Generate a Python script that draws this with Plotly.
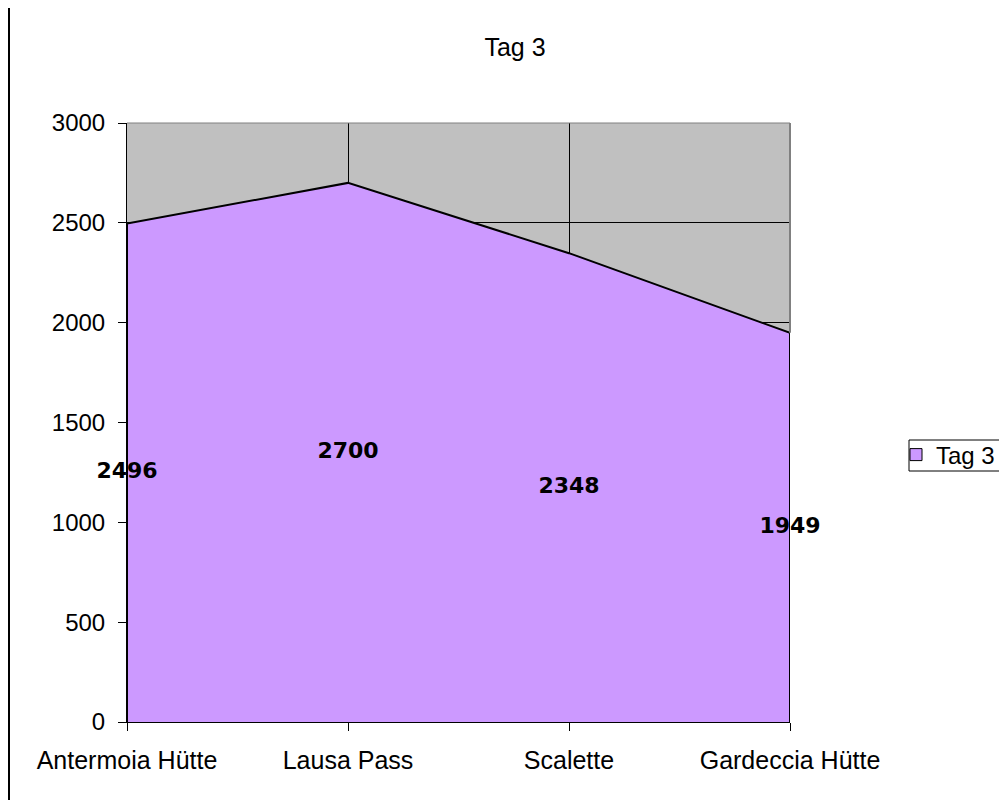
import plotly.graph_objects as go

categories = ["Antermoia Hütte", "Lausa Pass", "Scalette", "Gardeccia Hütte"]
values = [2496, 2700, 2348, 1949]
series_name = "Tag 3"
y_ticks = [0, 500, 1000, 1500, 2000, 2500, 3000]

FILL = "#CC99FF"
# page has an 8px body margin, so work in figure coordinates = reference - 8
W, H = 999, 792
L, R, T, B = 119, 782, 115, 714


def px_x(px):
    return (px - L) / (R - L)


def px_y(py):
    return (B - py) / (B - T)


fig = go.Figure()

# area with outline (closed at both ends)
fig.add_trace(go.Scatter(
    x=[categories[0]] + categories + [categories[-1]],
    y=[0] + values + [0],
    mode="lines",
    fill="tozeroy",
    fillcolor=FILL,
    line=dict(color="black", width=2),
    showlegend=False,
    hoverinfo="skip",
))

# data labels centred at half height
fig.add_trace(go.Scatter(
    x=categories,
    y=[v / 2 for v in values],
    mode="text",
    text=[str(v) for v in values],
    textposition="middle center",
    textfont=dict(family="DejaVu Sans", size=22, color="black", weight="bold"),
    cliponaxis=False,
    showlegend=False,
    hoverinfo="skip",
))

# legend entry
fig.add_trace(go.Bar(
    x=[categories[0]], y=[None], name=series_name,
    marker=dict(color=FILL, line=dict(color="black", width=1)),
    showlegend=True,
))

fig.update_layout(
    width=W, height=H,
    margin=dict(l=L, r=W - R, t=T, b=H - B, autoexpand=False),
    paper_bgcolor="white",
    plot_bgcolor="#C0C0C0",
    font=dict(family="Liberation Sans", size=24, color="black"),
    title=dict(text=series_name, x=px_x(507), xanchor="center", xref="paper",
               y=1 - 39 / H, yref="container", yanchor="middle",
               font=dict(family="Liberation Sans", size=25, color="black")),
    xaxis=dict(
        type="category", range=[0, len(categories) - 1],
        showgrid=True, gridcolor="black", gridwidth=1,
        showline=True, linecolor="black", linewidth=1,
        ticks="outside", ticklen=8, tickcolor="black",
        tickfont=dict(family="Liberation Sans", size=25),
        ticklabelstandoff=8,
        zeroline=False,
    ),
    yaxis=dict(
        range=[0, 3000], tickvals=y_ticks,
        showgrid=True, gridcolor="black", gridwidth=1,
        showline=True, linecolor="black", linewidth=1,
        ticks="outside", ticklen=8, tickcolor="black",
        tickfont=dict(family="Liberation Sans", size=24),
        ticklabelstandoff=8,
        zeroline=False,
    ),
    legend=dict(
        x=px_x(888), y=px_y(447), xanchor="left", yanchor="middle",
        xref="paper", yref="paper",
        borderwidth=0, bgcolor="rgba(0,0,0,0)",
        font=dict(family="Liberation Sans", size=24),
        itemwidth=30,
    ),
    shapes=[
        # gray top border
        dict(type="line", xref="paper", yref="paper", x0=0, x1=1, y0=1, y1=1,
             line=dict(color="#808080", width=1), layer="above"),
        # gray right border above the series
        dict(type="line", xref="paper", yref="y", x0=1, x1=1, y0=values[-1], y1=3000,
             line=dict(color="#808080", width=2), layer="above"),
        # left frame line
        dict(type="line", xref="paper", yref="paper", x0=px_x(1), x1=px_x(1),
             y0=px_y(H), y1=px_y(0), line=dict(color="black", width=2), layer="above"),
        # legend box
        dict(type="rect", xref="paper", yref="paper", x0=px_x(901), x1=px_x(W + 5),
             y0=px_y(463), y1=px_y(432), fillcolor="white",
             line=dict(color="black", width=1), layer="above"),
    ],
)

fig.write_html("out.html")
